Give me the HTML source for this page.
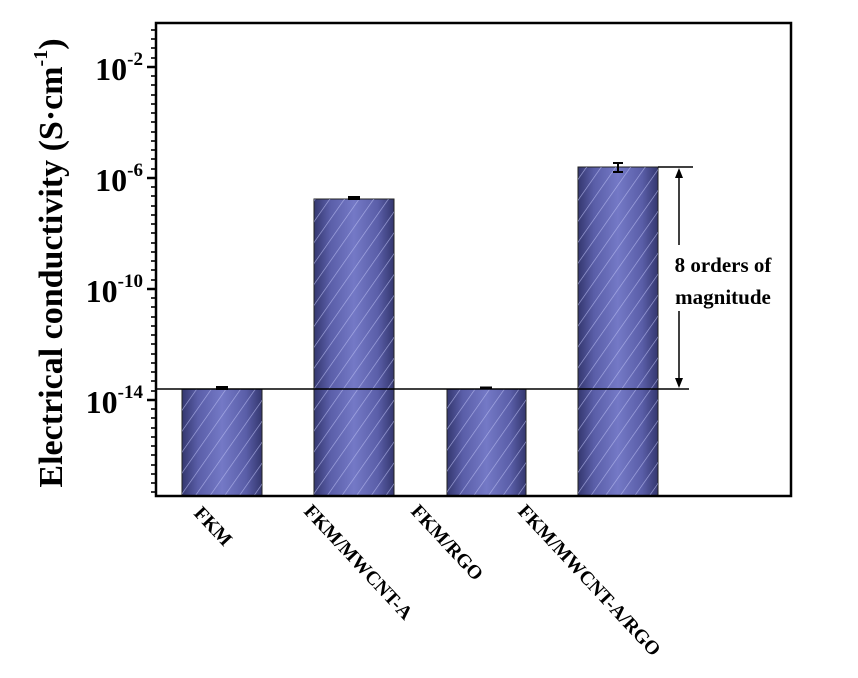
<!DOCTYPE html>
<html><head><style>body{margin:0;background:#fff}svg{display:block}</style></head><body>
<svg width="858" height="678" viewBox="0 0 858 678" xmlns="http://www.w3.org/2000/svg" font-family="Liberation Serif, serif" font-weight="bold">
<defs>
<linearGradient id="g" x1="0" x2="1" y1="0" y2="0">
<stop offset="0" stop-color="#34376f"/><stop offset="0.2" stop-color="#5a5ea8"/><stop offset="0.5" stop-color="#7479c6"/><stop offset="0.8" stop-color="#5a5ea8"/><stop offset="1" stop-color="#34376f"/>
</linearGradient>
<pattern id="h" width="12" height="12" patternUnits="userSpaceOnUse" patternTransform="rotate(35)">
<rect width="12" height="12" fill="none"/><line x1="0" y1="0" x2="0" y2="12" stroke="#b8bcf0" stroke-width="1.3" opacity="0.8"/>
</pattern>
</defs>
<g stroke="#222" stroke-width="1">
<rect x="182" y="389" width="80" height="107" fill="url(#g)"/>
<rect x="314" y="199" width="80" height="297" fill="url(#g)"/>
<rect x="447" y="389" width="79" height="107" fill="url(#g)"/>
<rect x="578" y="167" width="80" height="329" fill="url(#g)"/>
</g>
<g>
<rect x="182" y="389" width="80" height="107" fill="url(#h)"/>
<rect x="314" y="199" width="80" height="297" fill="url(#h)"/>
<rect x="447" y="389" width="79" height="107" fill="url(#h)"/>
<rect x="578" y="167" width="80" height="329" fill="url(#h)"/>
</g>
<g stroke="#000" stroke-width="2">
<line x1="216" y1="388" x2="228" y2="388" stroke-width="4"/>
<line x1="348" y1="198" x2="360" y2="198" stroke-width="4"/>
<line x1="480" y1="388" x2="492" y2="388" stroke-width="3"/>
<line x1="618" y1="163" x2="618" y2="172"/><line x1="613" y1="163" x2="623" y2="163"/><line x1="613" y1="172" x2="623" y2="172"/>
</g>
<g stroke="#000" stroke-width="1.5" fill="none">
<line x1="156" y1="389" x2="689" y2="389"/>
<line x1="658" y1="167" x2="693" y2="167"/>
<line x1="679" y1="175" x2="679" y2="245"/>
<line x1="679" y1="311" x2="679" y2="381"/>
</g>
<polygon points="679,168 675,178 683,178" fill="#000"/>
<polygon points="679,388 675,378 683,378" fill="#000"/>
<text x="723" y="272" font-size="21" text-anchor="middle">8 orders of</text>
<text x="723" y="304" font-size="21" text-anchor="middle">magnitude</text>
<rect x="156" y="23" width="635" height="473" fill="none" stroke="#000" stroke-width="2.5"/>
<g stroke="#000" stroke-width="2.5">
<line x1="147" y1="67" x2="156" y2="67"/><line x1="147" y1="178" x2="156" y2="178"/><line x1="147" y1="289" x2="156" y2="289"/><line x1="147" y1="400" x2="156" y2="400"/>
</g>
<g stroke="#000" stroke-width="1.6">
<line x1="151" y1="30" x2="156" y2="30"/><line x1="151" y1="39" x2="156" y2="39"/><line x1="151" y1="48" x2="156" y2="48"/><line x1="151" y1="58" x2="156" y2="58"/>
<line x1="151" y1="76" x2="156" y2="76"/><line x1="151" y1="85" x2="156" y2="85"/><line x1="151" y1="95" x2="156" y2="95"/><line x1="151" y1="104" x2="156" y2="104"/><line x1="151" y1="113" x2="156" y2="113"/><line x1="151" y1="122" x2="156" y2="122"/><line x1="151" y1="132" x2="156" y2="132"/><line x1="151" y1="141" x2="156" y2="141"/><line x1="151" y1="150" x2="156" y2="150"/><line x1="151" y1="159" x2="156" y2="159"/><line x1="151" y1="169" x2="156" y2="169"/>
<line x1="151" y1="187" x2="156" y2="187"/><line x1="151" y1="196" x2="156" y2="196"/><line x1="151" y1="206" x2="156" y2="206"/><line x1="151" y1="215" x2="156" y2="215"/><line x1="151" y1="224" x2="156" y2="224"/><line x1="151" y1="233" x2="156" y2="233"/><line x1="151" y1="243" x2="156" y2="243"/><line x1="151" y1="252" x2="156" y2="252"/><line x1="151" y1="261" x2="156" y2="261"/><line x1="151" y1="270" x2="156" y2="270"/><line x1="151" y1="280" x2="156" y2="280"/>
<line x1="151" y1="298" x2="156" y2="298"/><line x1="151" y1="307" x2="156" y2="307"/><line x1="151" y1="317" x2="156" y2="317"/><line x1="151" y1="326" x2="156" y2="326"/><line x1="151" y1="335" x2="156" y2="335"/><line x1="151" y1="344" x2="156" y2="344"/><line x1="151" y1="354" x2="156" y2="354"/><line x1="151" y1="363" x2="156" y2="363"/><line x1="151" y1="372" x2="156" y2="372"/><line x1="151" y1="381" x2="156" y2="381"/><line x1="151" y1="391" x2="156" y2="391"/>
<line x1="151" y1="409" x2="156" y2="409"/><line x1="151" y1="418" x2="156" y2="418"/><line x1="151" y1="428" x2="156" y2="428"/><line x1="151" y1="437" x2="156" y2="437"/><line x1="151" y1="446" x2="156" y2="446"/><line x1="151" y1="455" x2="156" y2="455"/><line x1="151" y1="465" x2="156" y2="465"/><line x1="151" y1="474" x2="156" y2="474"/><line x1="151" y1="483" x2="156" y2="483"/><line x1="151" y1="492" x2="156" y2="492"/>
</g>
<g font-size="32" text-anchor="end">
<text x="143" y="80">10<tspan font-size="19" dy="-15">-2</tspan></text>
<text x="143" y="191">10<tspan font-size="19" dy="-15">-6</tspan></text>
<text x="143" y="302">10<tspan font-size="19" dy="-15">-10</tspan></text>
<text x="143" y="413">10<tspan font-size="19" dy="-15">-14</tspan></text>
</g>
<text transform="translate(62,263) rotate(-90)" font-size="34" text-anchor="middle">Electrical conductivity (S·cm<tspan font-size="20" dy="-15">-1</tspan><tspan dy="15">)</tspan></text>
<g font-size="19.5">
<text transform="translate(193,514) rotate(47)">FKM</text>
<text transform="translate(303,512) rotate(47)">FKM/MWCNT-A</text>
<text transform="translate(410,512) rotate(47)">FKM/RGO</text>
<text transform="translate(517,512) rotate(47)">FKM/MWCNT-A/RGO</text>
</g>
</svg>
</body></html>
